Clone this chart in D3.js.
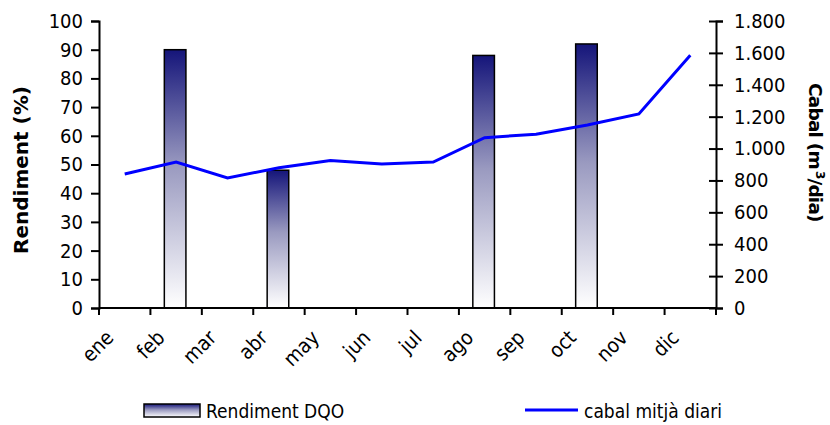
<!DOCTYPE html>
<html>
<head>
<meta charset="utf-8">
<script src="https://cdn.jsdelivr.net/npm/d3@7"></script>
<style>
  body { margin: 0; background: #fff; }
  svg text { font-family: "DejaVu Sans Condensed", "DejaVu Sans", sans-serif; fill: #000; }
  svg text.title { font-family: "DejaVu Sans", sans-serif; font-weight: bold; }
</style>
</head>
<body>
<div id="chart"></div>
<script>
const months = ["ene", "feb", "mar", "abr", "may", "jun", "jul", "ago", "sep", "oct", "nov", "dic"]
// rendiment DQO (%) - only some months have a value
const rendiment = [null, 90, null, 48, null, null, null, 88, null, 92, null, null]
// cabal mitjà diari (m3/dia)
const cabal = [840, 915, 815, 880, 925, 903, 915, 1068, 1090, 1148, 1217, 1585]
const leftTicks = [0, 10, 20, 30, 40, 50, 60, 70, 80, 90, 100]
const rightTicks = [0, 200, 400, 600, 800, 1000, 1200, 1400, 1600, 1800]

const w = 830
const h = 425
const margin = { top: 21, right: 114, bottom: 117, left: 99 }

const svg = d3.select("#chart").append("svg")
  .attr("width", w)
  .attr("height", h)

const x = d3.scaleBand()
  .domain(months)
  .range([margin.left, w - margin.right])

const yL = d3.scaleLinear().domain([0, 100]).range([h - margin.bottom, margin.top])
const yR = d3.scaleLinear().domain([0, 1800]).range([h - margin.bottom, margin.top])

// gradient for the bars
const defs = svg.append("defs")
const grad = defs.append("linearGradient")
  .attr("id", "barGrad")
  .attr("x1", 0).attr("y1", 0).attr("x2", 0).attr("y2", 1)
grad.append("stop").attr("offset", "0%").attr("stop-color", "#15157a")
grad.append("stop").attr("offset", "45%").attr("stop-color", "#9a9ac0")
grad.append("stop").attr("offset", "100%").attr("stop-color", "#ffffff")

const fmt = (d) => d3.format(",")(d).replace(/,/g, ".")

// bars
const barW = x.bandwidth() * 0.42
svg.append("g")
  .selectAll("rect")
  .data(months.map((m, i) => ({ m: m, v: rendiment[i] })).filter((d) => d.v !== null))
  .enter()
  .append("rect")
  .attr("x", (d) => x(d.m) + x.bandwidth() / 2 - barW / 2 - 1)
  .attr("y", (d) => yL(d.v))
  .attr("width", barW)
  .attr("height", (d) => yL(0) - yL(d.v))
  .attr("fill", "url(#barGrad)")
  .attr("stroke", "#000")
  .attr("stroke-width", 1.5)

// line
const line = d3.line()
  .x((d, i) => x(months[i]) + x.bandwidth() / 2)
  .y((d) => yR(d))
svg.append("path")
  .datum(cabal)
  .attr("d", line)
  .attr("fill", "none")
  .attr("stroke", "#0000ff")
  .attr("stroke-width", 3)

// left axis
const axL = svg.append("g")
  .attr("transform", `translate(${margin.left},0)`)
  .call(d3.axisLeft(yL).tickValues(leftTicks).tickSize(8).tickPadding(8))
axL.selectAll("text").style("font-size", "20px")

// right axis
const axR = svg.append("g")
  .attr("transform", `translate(${w - margin.right},0)`)
  .call(d3.axisRight(yR).tickValues(rightTicks).tickFormat(fmt).tickSize(7).tickPadding(11))
axR.selectAll(".tick line").attr("x1", -7)
axR.selectAll("text").style("font-size", "20px")

// bottom axis
const xTicks = months.map((m) => x(m)).concat([w - margin.right])
const axB = svg.append("g")
  .attr("transform", `translate(0,${h - margin.bottom})`)
axB.append("line")
  .attr("x1", margin.left).attr("x2", w - margin.right)
  .attr("stroke", "#000").attr("stroke-width", 2)
axB.selectAll(".xt")
  .data(xTicks)
  .enter()
  .append("line")
  .attr("x1", (d) => d).attr("x2", (d) => d)
  .attr("y1", 0).attr("y2", 7)
  .attr("stroke", "#000").attr("stroke-width", 2)
axB.selectAll(".xl")
  .data(months)
  .enter()
  .append("text")
  .attr("text-anchor", "end")
  .attr("transform", (d) => `translate(${x(d) + x.bandwidth() / 2 - 10},${31}) rotate(-45)`)
  .style("font-size", "20.5px")
  .text((d) => d)

svg.selectAll(".domain").attr("stroke", "#000").attr("stroke-width", 2)
svg.selectAll(".tick line").attr("stroke", "#000").attr("stroke-width", 2)

// axis titles
svg.append("text")
  .attr("class", "title")
  .attr("transform", `translate(28,170) rotate(-90)`)
  .attr("text-anchor", "middle")
  .style("font-size", "20px")
  .text("Rendiment (%)")

const rt = svg.append("text")
  .attr("class", "title")
  .attr("transform", `translate(809,83) rotate(90)`)
  .attr("text-anchor", "start")
  .style("font-size", "18.5px")
  .style("letter-spacing", "-0.8px")
rt.append("tspan").text("Cabal (m")
rt.append("tspan").attr("dy", -7).attr("dx", 2).style("font-size", "12px").text("3")
rt.append("tspan").attr("dy", 7).text("/dia)")

// legend
const leg = svg.append("g")
leg.append("rect")
  .attr("x", 144).attr("y", 404)
  .attr("width", 56).attr("height", 13)
  .attr("fill", "url(#barGrad)")
  .attr("stroke", "#000")
  .attr("stroke-width", 1.5)
leg.append("text")
  .attr("x", 206).attr("y", 418)
  .style("font-size", "19px")
  .text("Rendiment DQO")
leg.append("line")
  .attr("x1", 525).attr("x2", 578)
  .attr("y1", 410).attr("y2", 410)
  .attr("stroke", "#0000ff").attr("stroke-width", 3)
leg.append("text")
  .attr("x", 584).attr("y", 418)
  .style("font-size", "19px")
  .text("cabal mitjà diari")
</script>
</body>
</html>
